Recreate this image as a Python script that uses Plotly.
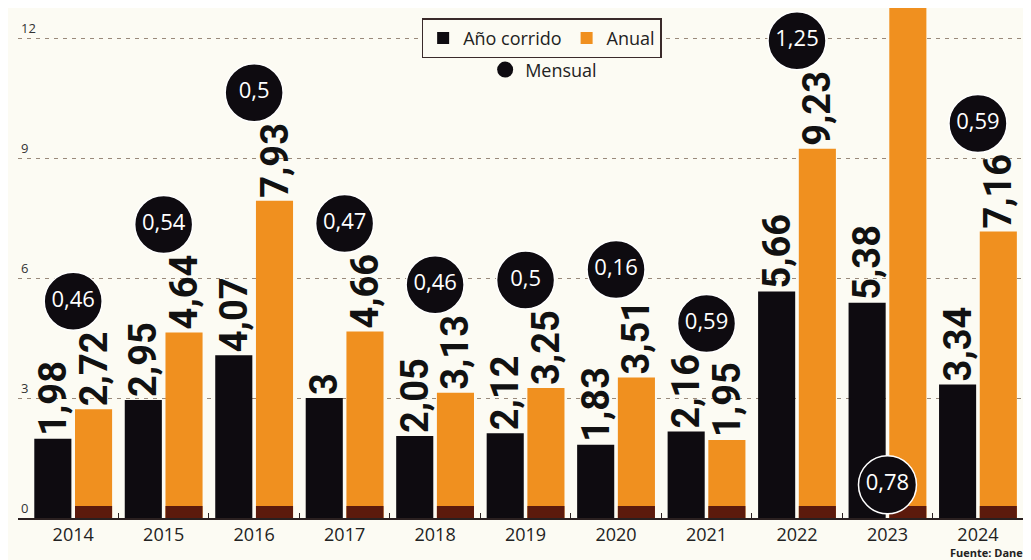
import plotly.graph_objects as go

years = ["2014", "2015", "2016", "2017", "2018", "2019", "2020", "2021", "2022", "2023", "2024"]
ano_corrido = [1.98, 2.95, 4.07, 3.00, 2.05, 2.12, 1.83, 2.16, 5.66, 5.38, 3.34]
anual = [2.72, 4.64, 7.93, 4.66, 3.13, 3.25, 3.51, 1.95, 9.23, 12.82, 7.16]
mensual = [0.46, 0.54, 0.50, 0.47, 0.46, 0.50, 0.16, 0.59, 1.25, 0.78, 0.59]
y_ticks = [0, 3, 6, 9, 12]

BG = "#fcfbf3"
BLACK = "#0e0b10"
ORANGE = "#f0901f"
STRIP = "#5c1a0c"
Y_MAX = 12.75
BUBBLE_GAP = 2.7      # space above the tallest bar for the rotated labels
STRIP_H = 0.3


def fmt(v):
    return f"{v:g}".replace(".", ",")


# bubble placement: above the taller bar of each year, or low inside when no room
bubble_y = []
for a, b in zip(ano_corrido, anual):
    top = max(a, b) + BUBBLE_GAP
    bubble_y.append(top if top < Y_MAX - 0.3 else 0.83)

label_font = dict(family="Roboto", size=38, color="#111111", weight="bold")

fig = go.Figure()
fig.add_trace(go.Bar(
    x=years, y=ano_corrido, name="Año corrido", marker=dict(color=BLACK, line=dict(width=0)),
    offset=-0.43, width=0.41, text=[fmt(v) for v in ano_corrido], textposition="outside",
    textangle=-90, constraintext="none", textfont=label_font, cliponaxis=True,
    legend="legend", hoverinfo="skip"))
fig.add_trace(go.Bar(
    x=years, y=anual, name="Anual", marker=dict(color=ORANGE, line=dict(width=0)),
    offset=0.02, width=0.41, text=[fmt(v) for v in anual], textposition="outside",
    textangle=-90, constraintext="none", textfont=label_font, cliponaxis=True,
    legend="legend", hoverinfo="skip"))
fig.add_trace(go.Bar(
    x=years, y=[STRIP_H] * len(years), marker=dict(color=STRIP, line=dict(width=0)),
    offset=0.02, width=0.41, showlegend=False, hoverinfo="skip"))
fig.add_trace(go.Scatter(
    x=years, y=bubble_y, mode="markers+text",
    marker=dict(size=58, color=BLACK, line=dict(width=1.5, color="#ffffff")),
    text=[fmt(v) for v in mensual], textposition="middle center",
    textfont=dict(family="Open Sans", size=22, color="#ffffff"),
    cliponaxis=False, showlegend=False, hoverinfo="skip"))
fig.add_trace(go.Scatter(
    x=[None], y=[None], mode="markers", name="Mensual",
    marker=dict(size=20, color=BLACK), legend="legend2"))

fig.update_layout(
    width=1023, height=552,
    margin=dict(l=10, r=6, t=0, b=42),
    paper_bgcolor=BG, plot_bgcolor=BG,
    barmode="overlay",
    font=dict(family="Open Sans", color="#222222"),
    legend=dict(orientation="h", x=0.52, xanchor="center", y=0.98, yanchor="top",
                bgcolor=BG, bordercolor="#3a2a2a", borderwidth=1.5,
                font=dict(size=18, family="Open Sans", color="#222222"),
                itemclick=False, tracegroupgap=0, itemwidth=30),
    legend2=dict(orientation="h", x=0.522, xanchor="center", y=0.915, yanchor="top",
                 bgcolor="rgba(0,0,0,0)", borderwidth=0,
                 font=dict(size=18, family="Open Sans", color="#222222")),
    showlegend=True,
)
fig.update_xaxes(
    type="category", range=[-0.61, 10.52],
    showline=True, linecolor="#2a2020", linewidth=1.5,
    ticks="inside", tickson="boundaries", ticklen=5, tickcolor="#2a2020",
    tickfont=dict(size=18, family="Open Sans", color="#222222"), ticklabelstandoff=0,
    showgrid=False, fixedrange=True)
fig.update_yaxes(
    range=[0, Y_MAX], tickvals=y_ticks, ticktext=[str(t) for t in y_ticks],
    ticklabelposition="inside top", tickfont=dict(size=13, color="#333333"),
    showgrid=True, gridcolor="#9a8a7a", gridwidth=1, griddash="4px,5px",
    zeroline=False, showline=False, ticks="", fixedrange=True)
fig.add_annotation(text="<b>Fuente: Dane</b>", xref="paper", yref="paper", x=1.0, y=-0.0686,
                   xanchor="right", yanchor="middle", showarrow=False,
                   font=dict(size=11, family="Open Sans", color="#222222"))

fig.write_html("out.html")
